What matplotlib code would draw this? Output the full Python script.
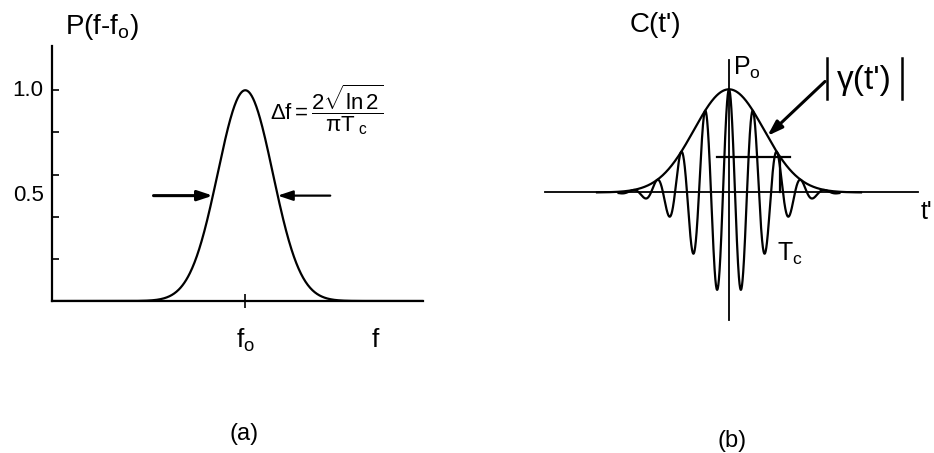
import numpy as np
import matplotlib.pyplot as plt

plt.rcParams['font.family'] = ['Liberation Sans', 'DejaVu Sans']
plt.rcParams['mathtext.fontset'] = 'custom'
plt.rcParams['mathtext.rm'] = 'Liberation Sans'
plt.rcParams['mathtext.it'] = 'Liberation Sans'
plt.rcParams['mathtext.bf'] = 'Liberation Sans:bold'

# (a) spectral line P(f - f0), frequency in units of the linewidth
f0 = 0.0
peak = 1.0
fwhm = 1.0                      # delta f
y_ticks = [0.2, 0.4, 0.6, 0.8, 1.0]
y_labels = ['1.0', '0.5']
y_label_pos = [1.0, 0.5]
arrow_tails = [-1.415, 1.31]    # half-maximum arrows, left and right

# (b) coherence function C(t'), time in units of the optical period
env_sigma = 1.46
carrier_period = 1.0
tc_level = 0.343
tc_span = [-0.5, 2.54]
tc_mark = 2.125


def gauss(x, x0, width):
    return np.exp(-0.5 * ((x - x0) / width) ** 2)


fig = plt.figure(figsize=(9.34, 4.53), dpi=100)

# ---- panel (a) ----
ax = fig.add_axes([52 / 934, 1 - 301 / 453, 371 / 934, 255 / 453])
sig_a = fwhm / (2 * np.sqrt(2 * np.log(2)))
f = np.linspace(-2.98, 2.74, 800)
ax.plot(f, peak * gauss(f, f0, sig_a), color='k', lw=1.6)
ax.set_xlim(-2.98, 2.74)
ax.set_ylim(0, 1.21)
for s in ['top', 'right']:
    ax.spines[s].set_visible(False)
for s in ['left', 'bottom']:
    ax.spines[s].set_linewidth(1.6)
ax.set_yticks(y_ticks)
ax.set_yticklabels([])
ax.tick_params(axis='y', direction='in', length=5, width=1.2)
ax.set_xticks([f0])
ax.set_xticklabels([])
ax.tick_params(axis='x', direction='inout', length=10, width=1.2)
for lab, pos in zip(y_labels, y_label_pos):
    ax.annotate(lab, xy=(0, pos), xycoords=('axes fraction', 'data'),
                xytext=(-6, 0), textcoords='offset points',
                ha='right', va='center', fontsize=16)

half = peak / 2
ax.annotate('', xy=(f0 - fwhm / 2, half), xytext=(arrow_tails[0], half),
            arrowprops=dict(arrowstyle='-|>,head_length=0.9,head_width=0.3',
                            color='k', lw=2.2, shrinkA=0, shrinkB=0))
ax.annotate('', xy=(f0 + fwhm / 2, half), xytext=(arrow_tails[1], half),
            arrowprops=dict(arrowstyle='-|>,head_length=0.9,head_width=0.3',
                            color='k', lw=1.6, shrinkA=0, shrinkB=0))
ax.text(0.385, 0.91, r'$\Delta f = \dfrac{2\sqrt{\ln 2}}{\pi T_{\ c}}$',
        ha='left', va='center', fontsize=16)
ax.text(f0, -0.185, r'f$_\mathrm{o}$', ha='center', va='center', fontsize=19)
ax.text(2.0, -0.185, 'f', ha='center', va='center', fontsize=19)

fig.text(65 / 934, 1 - 27 / 453, r'P(f-f$_\mathrm{o}$)', ha='left',
         va='center', fontsize=20)
fig.text(244 / 934, 1 - 434 / 453, '(a)', ha='center', va='center', fontsize=17)

# ---- panel (b) ----
bx = fig.add_axes([540 / 934, 1 - 330 / 453, 390 / 934, 280 / 453])
bx.set_xlim(-7.875, 8.375)
bx.set_ylim(-1.333, 1.381)
bx.axis('off')

bx.plot([-7.67, 7.875], [0, 0], color='k', lw=1.3)
bx.plot([0, 0], [-1.238, 1.286], color='k', lw=1.3)

t_env = np.linspace(-5.5, 5.5, 800)
bx.plot(t_env, gauss(t_env, 0, env_sigma), color='k', lw=1.6)
t = np.linspace(-4.6, 4.6, 2000)
bx.plot(t, gauss(t, 0, env_sigma) * np.cos(2 * np.pi * t / carrier_period),
        color='k', lw=1.6)

bx.plot(tc_span, [tc_level, tc_level], color='k', lw=1.6)
bx.plot([tc_mark, tc_mark], [0, tc_level], color='k', lw=1.6)

tip_t = 1.6
bx.annotate('', xy=(tip_t, gauss(tip_t, 0, env_sigma)), xytext=(4.0, 1.076),
            arrowprops=dict(arrowstyle='-|>,head_length=0.9,head_width=0.3',
                            color='k', lw=2.2, shrinkA=0, shrinkB=0))
bx.text(0.17, 1.21, r'P$_\mathrm{o}$', ha='left', va='center', fontsize=18)

# |gamma(t')| with tall modulus bars
bx.plot([4.1, 4.1], [0.905, 1.305], color='k', lw=1.8)
bx.plot([7.2, 7.2], [0.905, 1.305], color='k', lw=1.8)
bx.text(5.65, 1.09, "\u03b3(t')", ha='center', va='center', fontsize=24)

bx.text(2.0, -0.6, r'T$_\mathrm{c}$', ha='left', va='center', fontsize=18)
bx.text(8.0, -0.19, "t'", ha='left', va='center', fontsize=18)

fig.text(630 / 934, 1 - 25 / 453, "C(t')", ha='left', va='center', fontsize=20)
fig.text(732 / 934, 1 - 441 / 453, '(b)', ha='center', va='center', fontsize=17)

fig.savefig('out.png', dpi=100)
